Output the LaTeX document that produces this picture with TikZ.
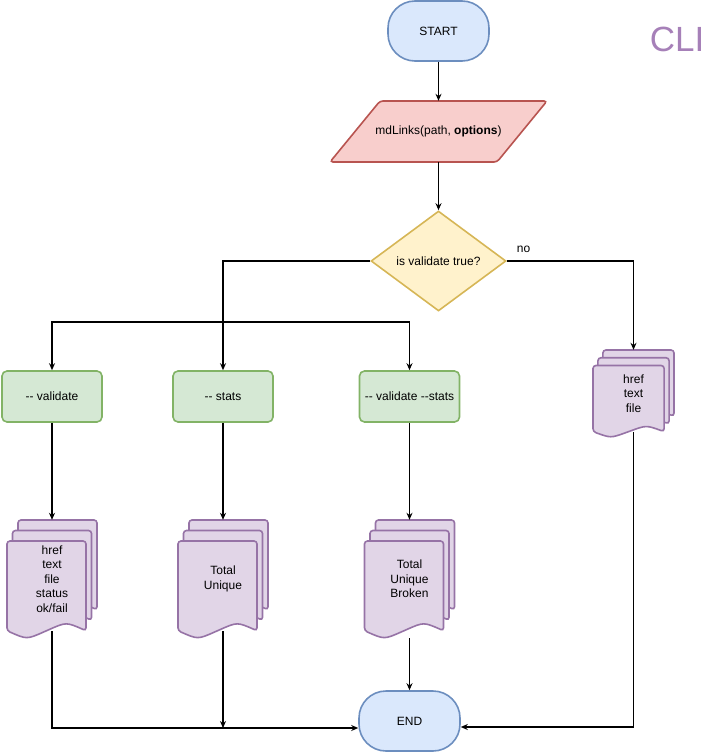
\documentclass[tikz,border=0pt]{standalone}
\usepackage{fontspec}
\setmainfont{Liberation Sans}
\definecolor{fcblue}{HTML}{6C8EBF}
\definecolor{fcbluebg}{HTML}{DAE8FC}
\definecolor{fcred}{HTML}{B85450}
\definecolor{fcredbg}{HTML}{F8CECC}
\definecolor{fcyellow}{HTML}{D6B656}
\definecolor{fcyellowbg}{HTML}{FFF2CC}
\definecolor{fcgreen}{HTML}{82B366}
\definecolor{fcgreenbg}{HTML}{D5E8D4}
\definecolor{fcpurple}{HTML}{9673A6}
\definecolor{fcpurplebg}{HTML}{E1D5E7}
\definecolor{fccli}{RGB}{166,128,184}
\usetikzlibrary{arrows.meta,positioning,shapes.geometric,calc}

% stacked pages: name, centre x, centre y, width, height, text
\newcommand{\multidoc}[6]{%
  \foreach \k in {2,1,0}{%
    \pgfmathsetmacro{\pw}{0.878*#4}
    \pgfmathsetmacro{\ph}{0.822*#5}
    \pgfmathsetmacro{\px}{#2-#4/2+0.061*#4*\k}
    \pgfmathsetmacro{\py}{#3+#5/2-\ph-0.089*#5*\k}
    \pgfmathsetmacro{\wv}{0.15*\ph}
    \draw[docpage] (\px,\py) -- ({\px+\pw},\py) -- ({\px+\pw},{\py+\ph-\wv/2})
      .. controls ({\px+0.75*\pw},{\py+\ph-1.1*\wv}) .. ({\px+0.5*\pw},{\py+\ph-\wv/2})
      .. controls ({\px+0.25*\pw},{\py+\ph+0.1*\wv}) .. (\px,{\py+\ph-\wv/2}) -- cycle;
  }
  \node[doctext, minimum width=#4, minimum height=#5] (#1) at (#2,#3) {#6};
}

\begin{document}
\begin{tikzpicture}[x=1pt, y=-1pt,
  font=\fontsize{12}{14.4}\selectfont,
  arr/.style={-{Stealth[length=7pt,width=6pt]}, line width=1.1pt},
  terminal/.style={draw=fcblue, fill=fcbluebg, line width=1.6pt, rounded corners=27pt, minimum width=101, minimum height=60},
  inputbox/.style={draw=fcred, fill=fcredbg, line width=1.6pt, rounded corners=3pt},
  decision/.style={diamond, draw=fcyellow, fill=fcyellowbg, line width=1.6pt, aspect=1.35, inner sep=0pt, minimum width=135, minimum height=100},
  option/.style={draw=fcgreen, fill=fcgreenbg, line width=1.6pt, rounded corners=5pt, minimum width=100, minimum height=51},
  docpage/.style={draw=fcpurple, fill=fcpurplebg, line width=1.6pt, rounded corners=3pt},
  doctext/.style={align=center, inner sep=0pt}]
  \useasboundingbox (0,0) rectangle (724,752);

  %--- top ---
  \node[terminal] (start) at (438.5,31) {START};
  \node[font=\fontsize{35}{40}\selectfont, text=fccli] (cli) at (677,39.5) {CLI};

  \draw[inputbox] (380,101) -- (547,101) -- (497,162) -- (330,162) -- cycle;
  \node[minimum width=167, minimum height=61, inner sep=0pt] (mdl) at (438.5,131.5) {mdLinks(path, \textbf{options})};

  \node[decision] (dec) at (438.5,261) {is validate true?};

  %--- options ---
  \node[option] (val) at (52,396.5) {-{}- validate};
  \node[option] (stats) at (223,396.5) {-{}- stats};
  \node[option] (valst) at (409.5,396.5) {-{}- validate -{}-stats};

  %--- outputs ---
  \multidoc{rdoc}{633.5}{393.5}{81}{87}{href\\text\\file}
  \multidoc{d1}{52}{579}{90}{118}{href\\text\\file\\status\\ok/fail}
  \multidoc{d2}{223}{579}{90}{118}{Total\\Unique}
  \multidoc{d3}{409.5}{579}{90}{118}{Total\\Unique\\Broken}

  \node[terminal] (end) at (409.5,721) {END};

  %--- connectors ---
  \draw[arr] (start.south) -- (mdl.north);
  \draw[arr] (mdl.south) -- (dec.north);
  \draw[arr] (dec.east) -| node[pos=0.066, above=5pt] {no} (rdoc.north);
  \draw[arr] (dec.west) -| (stats.north);
  \coordinate (fork) at (223,322);
  \draw[arr] (fork) -| (val.north);
  \draw[arr] (fork) -| (valst.north);

  \draw[arr] (val.south) -- (d1.north);
  \draw[arr] (stats.south) -- (d2.north);
  \draw[arr] (valst.south) -- (d3.north);

  \coordinate (merge) at (223,728);
  \draw[arr] ([yshift=7]d1.south) |- ([yshift=-7]end.west);
  \draw[arr] ([yshift=7]d2.south) -- (merge);
  \draw[arr] (d3.south) -- (end.north);
  \draw[arr] ([yshift=5]rdoc.south) |- ([yshift=-6]end.east);
\end{tikzpicture}
\end{document}
